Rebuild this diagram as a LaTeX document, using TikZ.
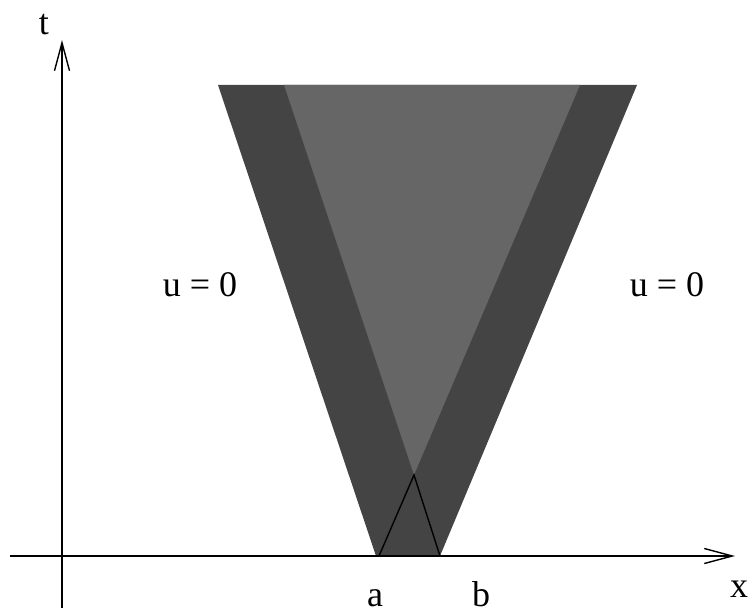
\documentclass[tikz,border=0pt]{standalone}
\usepackage{fontspec}
\setmainfont{Liberation Serif}
\usetikzlibrary{arrows.meta}
\definecolor{darkg}{gray}{0.267}
\definecolor{lightg}{gray}{0.4}
\begin{document}
\begin{tikzpicture}[x=1pt,y=-1pt,
  axis/.style={line width=1.4pt,-{Straight Barb[length=28pt,width=15pt,line width=1.4pt]}},
  lab/.style={font=\fontsize{36}{42}\selectfont,inner sep=0pt,anchor=base}]
\useasboundingbox (0,0) rectangle (754,615);
% cone regions
\coordinate (OTL) at (218,85);
\coordinate (OTR) at (637,85);
\coordinate (OBR) at (440,556);
\coordinate (OBL) at (376,556);
\coordinate (ITL) at (284,85);
\coordinate (ITR) at (580,85);
\coordinate (AP) at (414,475);
\coordinate (TA) at (379,556);
\coordinate (TB) at (440,556);
\fill[darkg] (OTL) -- (OTR) -- (OBR) -- (OBL) -- cycle;
\fill[lightg] (ITL) -- (ITR) -- (AP) -- cycle;
\draw[line width=1.4pt] (TA) -- (AP) -- (TB);
% axes
\coordinate (X0) at (10,556);
\coordinate (X1) at (735,556);
\coordinate (Y0) at (62,608);
\coordinate (Y1) at (62,40);
\draw[axis] (X0) -- (X1);
\draw[axis] (Y0) -- (Y1);
% labels
\node[lab] (t) at (44,35) {t};
\node[lab] (x) at (739,597) {x};
\node[lab] (a) at (375,606) {a};
\node[lab] (b) at (481,606) {b};
\node[lab] (u1) at (200,296) {u = 0};
\node[lab] (u2) at (667,296) {u = 0};
\end{tikzpicture}
\end{document}
